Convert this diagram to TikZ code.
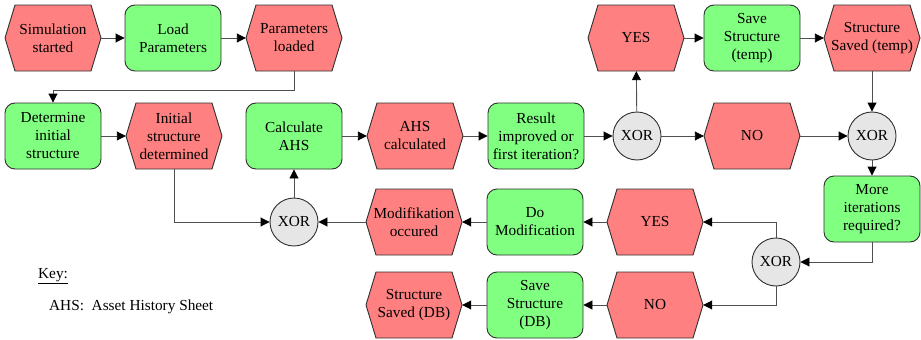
\documentclass[tikz,border=0pt]{standalone}
\usepackage{fontspec}
\setmainfont{Liberation Serif}
\usetikzlibrary{arrows.meta,calc}

\definecolor{evfill}{HTML}{FF8080}
\definecolor{fnfill}{HTML}{80FF80}
\definecolor{xorfill}{HTML}{E6E6E6}
\definecolor{outline}{HTML}{303030}
\definecolor{edge}{HTML}{505050}

\tikzset{
  txt/.style={font=\fontsize{15.3}{18}\selectfont, align=center},
  func/.style={txt, draw=outline, fill=fnfill, rounded corners=10pt,
    minimum width=96pt, minimum height=66pt, inner sep=1pt, line width=0.9pt},
  evt/.style={txt, minimum width=96pt, minimum height=66pt, inner sep=1pt},
  hexshape/.style={draw=outline, fill=evfill, line width=0.9pt},
  xor/.style={txt, circle, draw=outline, fill=xorfill, minimum size=48pt,
    inner sep=0pt, line width=0.9pt},
  flow/.style={draw=edge, line width=0.9pt,
    -{Triangle[length=9pt,width=9pt,color=black]}},
}

% event: hexagon outline drawn first, then a named node carrying the text
\newcommand\eventnode[3]{%
  \path[hexshape, shift={(#2)}] (-48,0) -- (-38,-33) -- (38,-33) -- (48,0)
    -- (38,33) -- (-38,33) -- cycle;
  \node[evt] (#1) at (#2) {#3};}

\begin{document}
\begin{tikzpicture}[x=1pt, y=-1pt]
\useasboundingbox (0,0) rectangle (921,340);

% row 1
\eventnode{sim}{53,38}{Simulation\\started}
\node[func] (load) at (173,38) {Load\\Parameters};
\eventnode{parl}{294,38}{Parameters\\loaded}
\eventnode{yesa}{636,38}{YES}
\node[func] (savetemp) at (752,38) {Save\\Structure\\(temp)};
\eventnode{savedtemp}{872,38}{Structure\\Saved (temp)}

% row 2
\node[func] (det) at (53,136) {Determine\\initial\\structure};
\eventnode{init}{174,136}{Initial\\structure\\determined}
\node[func] (calc) at (294,136) {Calculate\\AHS};
\eventnode{ahsc}{415,136}{AHS\\calculated}
\node[func] (result) at (536,136) {Result\\improved or\\first iteration?};
\node[xor] (xora) at (637,136) {XOR};
\eventnode{noa}{752,136}{NO}
\node[xor] (xorb) at (872,136) {XOR};

% right column
\node[func] (more) at (872,209) {More\\iterations\\required?};
\node[xor] (xord) at (776,262) {XOR};

% row 3
\node[xor] (xorc) at (294,222) {XOR};
\eventnode{modocc}{414,222}{Modifikation\\occured}
\node[func] (domod) at (535,222) {Do\\Modification};
\eventnode{yesb}{655,222}{YES}

% row 4
\eventnode{saveddb}{414,305}{Structure\\Saved (DB)}
\node[func] (savedb) at (535,305) {Save\\Structure\\(DB)};
\eventnode{nob}{655,305}{NO}

% key
\node[txt, anchor=base west, inner sep=0pt] (key) at (38,278) {\underline{Key:}};
\node[txt, anchor=base west, inner sep=0pt] (ahs) at (49,310) {AHS:\ \ Asset History Sheet};

% connectors
\draw[flow] (sim) -- (load);
\draw[flow] (load) -- (parl);
\draw[flow] (parl.south) -- ++(0,19) -| (det.north);
\draw[flow] (det) -- (init);
\draw[flow] (init.south) |- (xorc.west);
\draw[flow] (modocc) -- (xorc);
\draw[flow] (xorc) -- (calc);
\draw[flow] (calc) -- (ahsc);
\draw[flow] (ahsc) -- (result);
\draw[flow] (result) -- (xora);
\draw[flow] (xora) -- (yesa);
\draw[flow] (xora) -- (noa);
\draw[flow] (noa) -- (xorb);
\draw[flow] (yesa) -- (savetemp);
\draw[flow] (savetemp) -- (savedtemp);
\draw[flow] (savedtemp) -- (xorb);
\draw[flow] (xorb) -- (more);
\draw[flow] (more.south) |- (xord.east);
\draw[flow] (xord.north) |- (yesb.east);
\draw[flow] (xord.south) |- (nob.east);
\draw[flow] (yesb) -- (domod);
\draw[flow] (domod) -- (modocc);
\draw[flow] (nob) -- (savedb);
\draw[flow] (savedb) -- (saveddb);
\end{tikzpicture}
\end{document}
